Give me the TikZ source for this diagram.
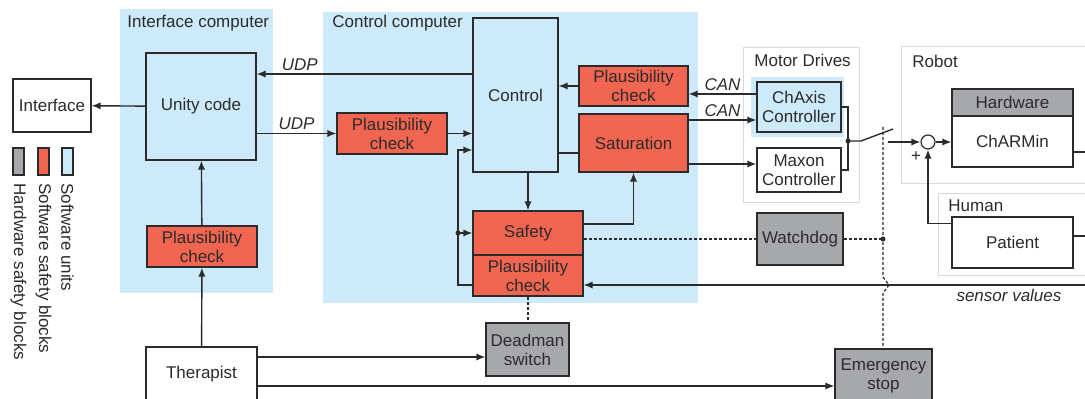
\documentclass[tikz,border=0pt]{standalone}
\usepackage{fontspec}
\setmainfont{Liberation Sans}
\usetikzlibrary{arrows.meta}
\definecolor{swunit}{HTML}{CCEAF9}
\definecolor{swsafe}{HTML}{F26651}
\definecolor{hwsafe}{HTML}{A7A8AC}
\definecolor{edge}{HTML}{2B2B2B}
\definecolor{grouprim}{HTML}{D9D9D9}

\begin{document}
\begin{tikzpicture}
[
x=0.5pt,y=-0.5pt,
font=\fontsize{8.5}{9.5}\selectfont,
>={Latex[length=4.5pt,width=3.6pt]},
wh/.style 2 args={minimum width=#1*0.5pt,minimum height=#2*0.5pt},
block/.style={draw=edge,line width=0.6pt,align=center,inner sep=1pt,text=edge},
swu/.style={block,fill=swunit},
sws/.style={block,fill=swsafe},
hws/.style={block,fill=hwsafe},
plain/.style={block,fill=white},
title/.style={anchor=west,inner sep=0pt,text=edge},
tag/.style={font=\fontsize{8.5}{9.5}\selectfont\itshape,text=edge,inner sep=1.5pt},
legend/.style={rotate=-90,anchor=west,inner sep=0pt,text=edge},
wire/.style={draw=edge,line width=0.7pt},
dots/.style={draw=edge,line width=0.6pt,dash pattern=on 1.5pt off 1pt},
junction/.style={circle,fill=edge,inner sep=0pt,minimum size=2.5pt},
]
\useasboundingbox (0,0) rectangle (1085,399);
\clip (0,0) rectangle (1085,399);

%Groups
\fill[swunit] (120,9) rectangle (273,293);
\fill[swunit] (323,12) rectangle (698,303);
\draw[grouprim,line width=0.5pt] (743,48) rectangle (859,203);
\fill[swunit] (751,77) rectangle (844,137);
\draw[grouprim,line width=0.5pt] (901,47) rectangle (1100,184);
\draw[grouprim,line width=0.5pt] (938,194) rectangle (1100,276);
\node[title] (ttic) at (127,23) {Interface computer};
\node[title] (ttcc) at (332,23) {Control computer};
\node[title] (ttmd) at (754,60) {Motor Drives};
\node[title] (ttrb) at (912,61) {Robot};
\node[title] (tthu) at (948,206) {Human};

%Legend
\node[hws,wh={11}{27},inner sep=0pt] (lghw) at (18.5,161.5) {};
\node[sws,wh={11}{27},inner sep=0pt] (lgss) at (43.5,161.5) {};
\node[swu,wh={11}{27},inner sep=0pt] (lgsu) at (67.5,161.5) {};
\node[legend] (lghwt) at (18.5,183) {Hardware safety blocks};
\node[legend] (lgsst) at (43.5,183) {Software safety blocks};
\node[legend] (lgsut) at (67.5,183) {Software units};

%Place the nodes
\node[plain,wh={78}{53}] (iface) at (52,105.5) {Interface};
\node[swu,wh={110}{107}] (unity) at (201,106.5) {Unity code};
\node[sws,wh={110}{41}] (pcui) at (202,246.5) {Plausibility\\check};
\node[plain,wh={111}{54}] (therapist) at (201.5,374) {Therapist};
\node[sws,wh={110}{41}] (pcin) at (392,133.5) {Plausibility\\check};
\node[swu,wh={85}{154}] (ctrl) at (515.5,95) {Control};
\node[sws,wh={109}{40}] (pccan) at (633.5,86) {Plausibility\\check};
\node[sws,wh={109}{58}] (sat) at (633.5,143) {Saturation};
\node[sws,wh={110}{44}] (safety) at (528,233) {Safety};
\node[sws,wh={110}{41}] (pcsafe) at (528,275.5) {Plausibility\\check};
\node[hws,wh={83}{53}] (deadman) at (527.5,349.5) {Deadman\\switch};
\node[swu,wh={84}{50}] (chaxis) at (799,107) {ChAxis\\Controller};
\node[plain,wh={84}{44}] (maxon) at (799,170) {Maxon\\Controller};
\node[hws,wh={86}{52}] (watchdog) at (800,239) {Watchdog};
\node[hws,wh={97}{54}] (estop) at (883.5,376) {Emergency\\stop};
\node[hws,wh={121}{27}] (hwhead) at (1012.5,102.5) {Hardware};
\node[plain,wh={121}{51}] (charmin) at (1012.5,141.5) {ChARMin};
\node[plain,wh={121}{51}] (patient) at (1012.5,242.5) {Patient};
\node[draw=edge,line width=0.6pt,circle,fill=white,minimum size=7pt,inner sep=0pt] (sum) at (928,142) {};
\node[text=edge,inner sep=0pt] (plus) at (916,157) {+};

%Helper points
\coordinate (udpin) at ([yshift=10.5pt]ctrl.west);
\coordinate (fb) at (458,150);
\coordinate (sens) at (1090,285);
\coordinate (canin) at ([yshift=6.5pt]chaxis.west);
\coordinate (canout) at ([yshift=-6.5pt]chaxis.west);
\coordinate (mxin) at ([yshift=3pt]maxon.west);
\coordinate (satup) at ([yshift=4.5pt]safety.east);
\coordinate (ctsat) at ([yshift=-5pt]sat.west);
\coordinate (swin) at (848,141);
\coordinate (swa) at (861,141);
\coordinate (swb) at (893,129);
\coordinate (swc) at (888,142);
\coordinate (swtop) at (883,127);
\coordinate (wdj) at (883,239);
\coordinate (jmpa) at (883,277);
\coordinate (jmpb) at (889,285);
\coordinate (jmpc) at (883,293);
\coordinate (rout) at (1090,152);
\coordinate (hout) at (1090,236);
\coordinate (hin) at ([yshift=9.5pt]patient.west);
\coordinate (dmin) at ([yshift=-3.75pt]deadman.west);
\coordinate (esin) at ([yshift=-5pt]estop.west);

%Draw the connections
\draw[wire,->] (unity) -- (iface);
\draw[wire,->] (udpin) -- (udpin -| unity.east) node[tag,above,pos=0.8] {UDP};
\draw[wire,->] (pcin -| unity.east) -- (pcin) node[tag,above,midway] {UDP};
\draw[wire,->] (pcin) -- (pcin -| ctrl.west);
\draw[wire,->] (pccan) -- (pccan -| ctrl.east);
\draw[wire] (ctsat -| ctrl.east) -- (ctsat);
\draw[wire,->] (canin) -- (canin -| pccan.east) node[tag,above,midway] {CAN};
\draw[wire,->] (canout -| sat.east) -- (canout) node[tag,above,midway] {CAN};
\draw[wire,->] (mxin -| sat.east) -- (mxin);
\draw[wire,->] (ctrl.south -| safety.north) -- (safety.north);
\draw[wire,->] (satup) -| (sat.south);
\draw[wire,->] (sens) -- (sens -| pcsafe.east) node[tag,below,pos=0.16] {sensor values};
\draw[wire,->] (sens -| pcsafe.west) -| (fb) -- (fb -| ctrl.west);
\draw[wire,->] (fb |- safety.west) -- (safety.west);
\node[junction] (fbdot) at (fb |- safety.west) {};
\draw[wire,->] (pcui) -- (unity);
\draw[wire,->] (therapist) -- (pcui);
\draw[wire,->] (dmin -| therapist.east) -- (dmin);
\draw[wire,->] (esin -| therapist.east) -- (esin);
\draw[dots] (pcsafe.south) -- (pcsafe.south |- deadman.north);
\draw[dots] (safety.east |- watchdog.west) -- (watchdog.west);
\draw[dots] (watchdog.east) -- (wdj);
\draw[dots] (swtop) -- (jmpa) -- (jmpb) -- (jmpc) -- (jmpc |- estop.north);
\node[junction] (wddot) at (wdj) {};
\draw[wire] (chaxis.east) -| (swin) |- (maxon.east);
\node[junction] (swdot) at (swin) {};
\draw[wire] (swin) -- (swa) -- (swb);
\draw[wire,->] (swc) -- (sum.west);
\draw[wire,->] (sum) -- (sum -| charmin.west);
\draw[wire] (rout -| charmin.east) -- (rout);
\draw[wire,->] (hin) -| (sum.south);
\draw[wire] (hout -| patient.east) -- (hout);
\end{tikzpicture}
\end{document}
